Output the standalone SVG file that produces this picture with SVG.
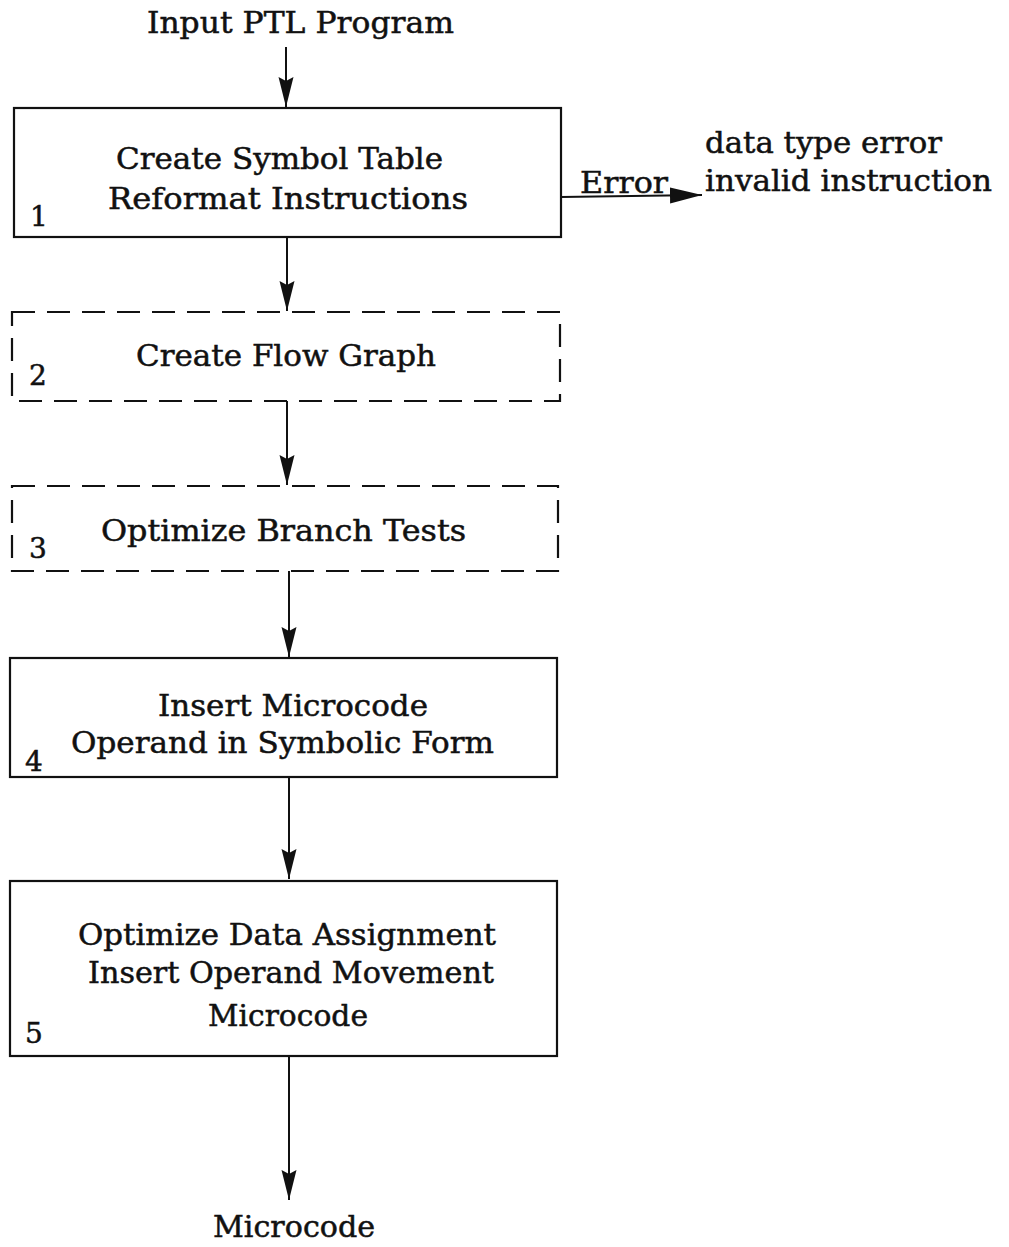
<svg xmlns="http://www.w3.org/2000/svg" width="1009" height="1247" viewBox="0 0 1009 1247">
  <style>
    .t { font-family: "DejaVu Serif", "Liberation Serif", serif; font-size: 29px; fill: #111; stroke: #111; stroke-width: 0.5; }
    .n { font-family: "DejaVu Serif", "Liberation Serif", serif; font-size: 28px; fill: #111; stroke: #111; stroke-width: 0.5; }
    .box { fill: none; stroke: #111; stroke-width: 2.2; }
    .dash { fill: none; stroke: #111; stroke-width: 2.2; stroke-dasharray: 23 12; }
    .edge { fill: none; stroke: #111; stroke-width: 2; }
  </style>
  <defs>
    <marker id="arrow" markerUnits="userSpaceOnUse" markerWidth="32" markerHeight="18" refX="30" refY="9" orient="auto">
      <path d="M0,1.5 L30,9 L0,16.5 L4,9 z" fill="#111"/>
    </marker>
    <marker id="arrowSide" markerUnits="userSpaceOnUse" markerWidth="34" markerHeight="22" refX="32" refY="11" orient="auto">
      <path d="M0,3 L32,11 L0,19 z" fill="#111"/>
    </marker>
  </defs>

  <rect width="1009" height="1247" fill="#fff"/>

  <!-- labels outside the boxes -->
  <text class="t" x="147" y="33" textLength="307" lengthAdjust="spacingAndGlyphs">Input PTL Program</text>
  <text class="t" x="213" y="1237" textLength="162" lengthAdjust="spacingAndGlyphs">Microcode</text>
  <text class="t" x="580" y="193" textLength="88" lengthAdjust="spacingAndGlyphs">Error</text>
  <text class="t" x="705" y="153" textLength="237" lengthAdjust="spacingAndGlyphs">data type error</text>
  <text class="t" x="705" y="191" textLength="287" lengthAdjust="spacingAndGlyphs">invalid instruction</text>

  <g id="step1">
    <rect class="box" x="14" y="108" width="547" height="129"/>
    <text class="t" x="116" y="169" textLength="327" lengthAdjust="spacingAndGlyphs">Create Symbol Table</text>
    <text class="t" x="108" y="209" textLength="360" lengthAdjust="spacingAndGlyphs">Reformat  Instructions</text>
    <text class="n" x="30" y="226">1</text>
  </g>

  <g id="step2">
    <rect class="dash" x="12" y="312" width="548" height="89"/>
    <text class="t" x="136" y="366" textLength="300" lengthAdjust="spacingAndGlyphs">Create Flow Graph</text>
    <text class="n" x="29" y="385">2</text>
  </g>

  <g id="step3">
    <rect class="dash" x="12" y="486" width="546" height="85"/>
    <text class="t" x="101" y="541" textLength="365" lengthAdjust="spacingAndGlyphs">Optimize Branch Tests</text>
    <text class="n" x="29" y="558">3</text>
  </g>

  <g id="step4">
    <rect class="box" x="10" y="658" width="547" height="119"/>
    <text class="t" x="158" y="716" textLength="270" lengthAdjust="spacingAndGlyphs">Insert Microcode</text>
    <text class="t" x="71" y="753" textLength="423" lengthAdjust="spacingAndGlyphs">Operand in Symbolic Form</text>
    <text class="n" x="25" y="771">4</text>
  </g>

  <g id="step5">
    <rect class="box" x="10" y="881" width="547" height="175"/>
    <text class="t" x="78" y="945" textLength="418" lengthAdjust="spacingAndGlyphs">Optimize Data Assignment</text>
    <text class="t" x="88" y="983" textLength="406" lengthAdjust="spacingAndGlyphs">Insert Operand Movement</text>
    <text class="t" x="208" y="1026" textLength="160" lengthAdjust="spacingAndGlyphs">Microcode</text>
    <text class="n" x="25" y="1043">5</text>
  </g>

  <g id="connectors">
    <line class="edge" x1="286" y1="47" x2="286" y2="107" marker-end="url(#arrow)"/>
    <line class="edge" x1="287" y1="237" x2="287" y2="311" marker-end="url(#arrow)"/>
    <line class="edge" x1="287" y1="401" x2="287" y2="485" marker-end="url(#arrow)"/>
    <line class="edge" x1="289" y1="571" x2="289" y2="657" marker-end="url(#arrow)"/>
    <line class="edge" x1="289" y1="777" x2="289" y2="879" marker-end="url(#arrow)"/>
    <line class="edge" x1="289" y1="1056" x2="289" y2="1200" marker-end="url(#arrow)"/>
    <line class="edge" x1="561" y1="197" x2="702" y2="195" marker-end="url(#arrowSide)"/>
  </g>
</svg>
